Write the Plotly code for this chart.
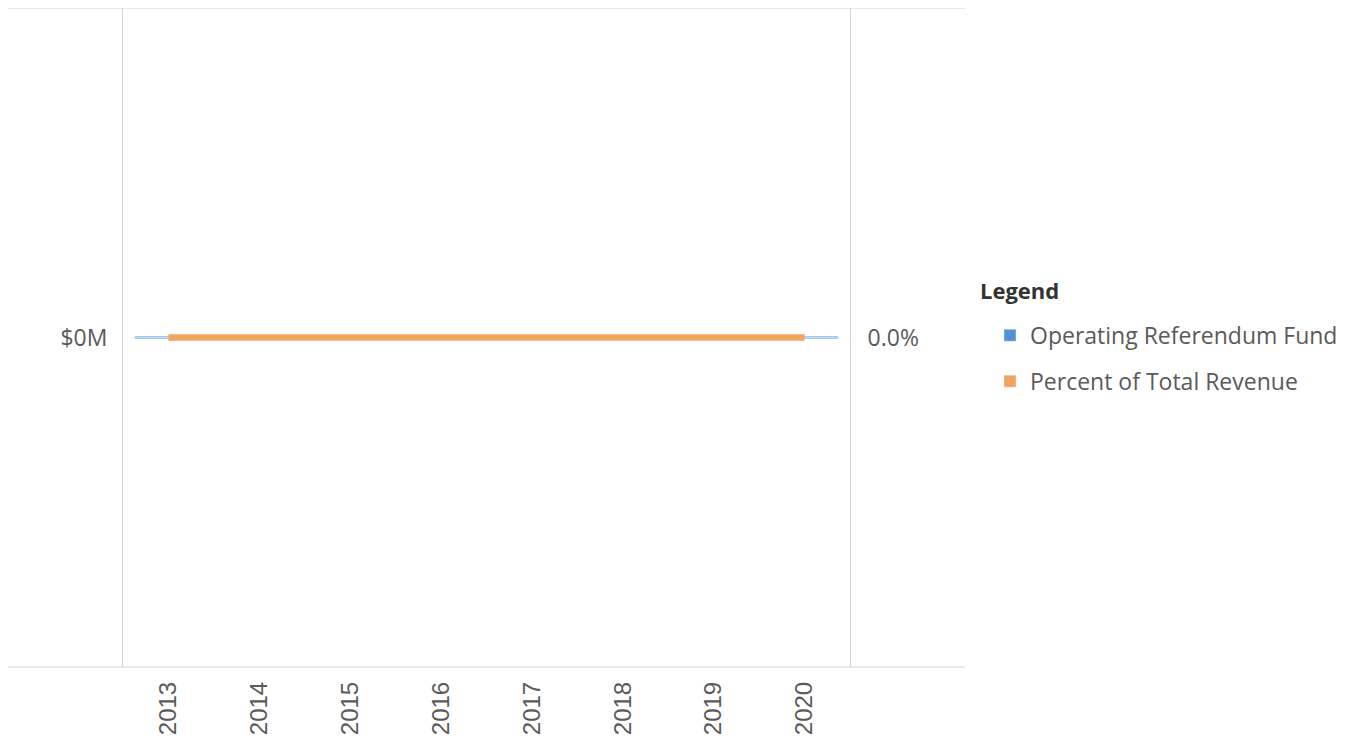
import plotly.graph_objects as go

years = ["2013", "2014", "2015", "2016", "2017", "2018", "2019", "2020"]
fund_values = [0, 0, 0, 0, 0, 0, 0, 0]          # $M
percent_values = [0, 0, 0, 0, 0, 0, 0, 0]       # fraction of total revenue
fund_tick_labels = ["$0M"]

blue = "#4f93d3"
orange = "#f2a35e"
grey_text = "#5a5a5a"
line_grey = "#d4d4d4"

fig = go.Figure()

# Legend entries (bar swatches) built from the data
fig.add_trace(go.Bar(x=years, y=fund_values, name="Operating Referendum Fund",
                     marker_color=blue, yaxis="y", hoverinfo="skip",
                     legendgroup="a"))
fig.add_trace(go.Bar(x=years, y=percent_values, name="Percent of Total Revenue",
                     marker_color=orange, yaxis="y2", hoverinfo="skip",
                     legendgroup="b"))

# Visible zero-height bars (drawn as flat bar tops)
fig.add_trace(go.Scatter(x=years, y=fund_values, mode="markers", showlegend=False,
                         marker=dict(symbol="line-ew", size=48, color=blue,
                                     line=dict(color=blue, width=2)),
                         yaxis="y", name="Operating Referendum Fund"))
# Percent line
fig.add_trace(go.Scatter(x=years, y=percent_values, mode="lines", showlegend=False,
                         line=dict(color=orange, width=6.5),
                         yaxis="y2", name="Percent of Total Revenue"))

W, H = 1340, 728
plot_left, plot_right = 115, 842
plot_top, plot_bottom = 0, 659
pw = plot_right - plot_left
ph = plot_bottom - plot_top

fig.update_layout(
    width=W, height=H,
    margin=dict(l=plot_left, r=W - plot_right, t=plot_top, b=H - plot_bottom, pad=0),
    paper_bgcolor="white", plot_bgcolor="white",
    font=dict(family="Open Sans", color=grey_text),
    barmode="overlay",
    xaxis=dict(type="category", range=[-0.5, 7.5], showgrid=False, zeroline=False,
               tickangle=-90, ticks="", ticklen=0, ticklabelstandoff=9,
               tickfont=dict(family="Liberation Sans", size=24, color=grey_text),
               showline=False),
    yaxis=dict(range=[-1, 1], tickvals=[0], ticktext=fund_tick_labels,
               showgrid=False, zeroline=False, ticklabelstandoff=10,
               showline=True, linecolor=line_grey, linewidth=1,
               ticks="", tickfont=dict(size=23, color=grey_text)),
    yaxis2=dict(range=[-1, 1], tickvals=[0], tickformat=".1%", overlaying="y",
                side="right", showgrid=False, zeroline=False, ticklabelstandoff=12,
                showline=True, linecolor=line_grey, linewidth=1,
                ticks="", tickfont=dict(size=23, color=grey_text)),
    legend=dict(x=(982 - plot_left) / pw, y=0.536, xanchor="left", yanchor="top",
                font=dict(size=23, color=grey_text), traceorder="grouped",
                tracegroupgap=13, bgcolor="rgba(0,0,0,0)"),
    annotations=[
        dict(text="<b>Legend</b>", xref="paper", yref="paper",
             x=(970 - plot_left) / pw, y=1 - (282 - plot_top) / ph,
             xanchor="left", yanchor="middle", showarrow=False,
             font=dict(size=22, color="#333333")),
    ],
    shapes=[
        dict(type="line", xref="paper", yref="paper",
             x0=-plot_left / pw, x1=(957 - plot_left) / pw, y0=1, y1=1,
             line=dict(color=line_grey, width=1)),
        dict(type="line", xref="paper", yref="paper",
             x0=-plot_left / pw, x1=(957 - plot_left) / pw, y0=0, y1=0,
             line=dict(color=line_grey, width=1)),
    ],
)

fig.write_html("out.html")
